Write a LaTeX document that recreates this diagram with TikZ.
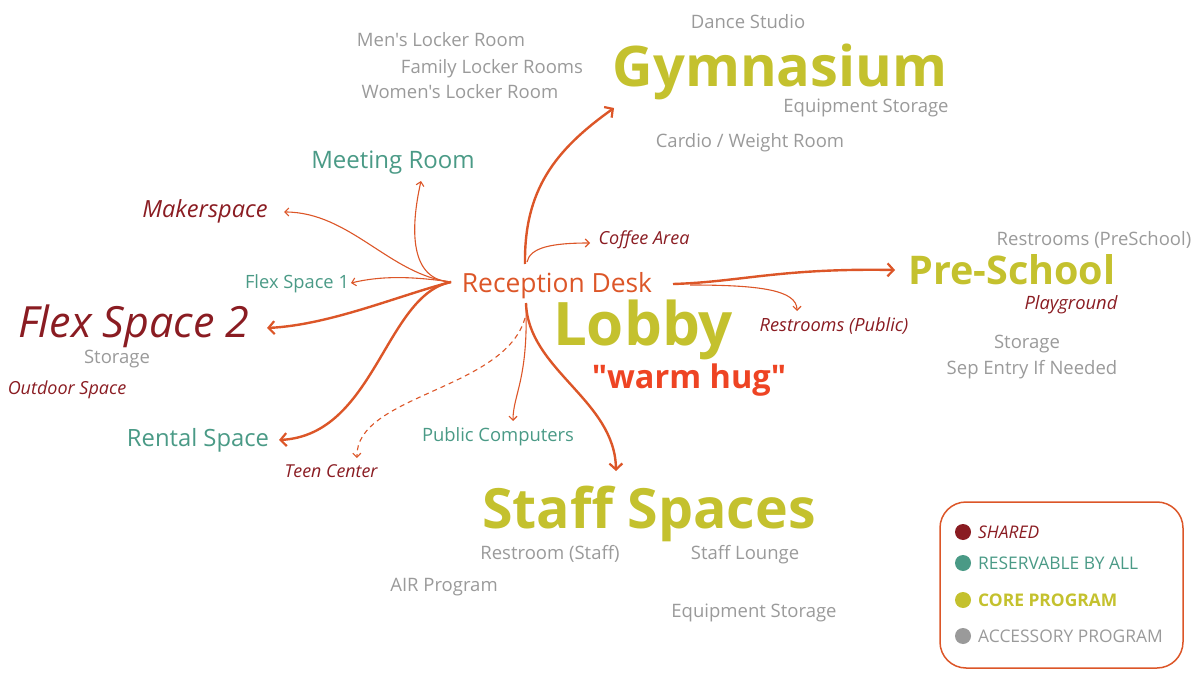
\documentclass[tikz,border=0pt]{standalone}
\usepackage{fontspec}
\setmainfont{Open Sans}[Ligatures=TeXOff]
\usetikzlibrary{arrows.meta}
\definecolor{lineor}{HTML}{DC5628}
\definecolor{dred}{HTML}{8A1C22}
\definecolor{teal2}{HTML}{4A9A86}
\definecolor{olive2}{HTML}{C4C12E}
\definecolor{grey2}{HTML}{9A9A9A}
\definecolor{hugred}{HTML}{EE4423}
\newcommand{\fs}[1]{\fontsize{#1}{#1}\selectfont}
\tikzset{
  lbl/.style={inner sep=0pt, anchor=base},
  acc/.style={lbl, text=grey2, font=\fs{18.5}},
  core/.style={lbl, text=olive2, font=\bfseries\fs{#1}},
  resv/.style={lbl, text=teal2, font=\fs{#1}},
  shrd/.style={lbl, text=dred, font=\itshape\fs{#1}},
  thickarr/.style={draw=lineor, line width=2.4pt, -{Straight Barb[length=6pt,width=13pt,line width=2.2pt]}},
  thinarr/.style={draw=lineor, line width=1.1pt, -{Straight Barb[length=4pt,width=8pt,line width=1.1pt]}},
  dot/.style={circle, inner sep=0pt, minimum size=16pt},
  legtxt/.style={inner sep=0pt, anchor=base west, font=\fs{17.4}}
}
\begin{document}
\begin{tikzpicture}[x=1pt,y=-1pt]
\useasboundingbox (0,0) rectangle (1200,679);
% top cluster
\node[acc] (dance) at (748,29) {Dance Studio};
\node[acc] (mens) at (441,47) {Men's Locker Room};
\node[acc] (family) at (492,74) {Family Locker Rooms};
\node[acc] (womens) at (460,99) {Women's Locker Room};
\node[core=56] (gym) at (780,87) {Gymnasium};
\node[acc] (eqtop) at (866,113) {Equipment Storage};
\node[acc] (cardio) at (750,148) {Cardio / Weight Room};
% left
\node[resv=24] (meeting) at (393,169) {Meeting Room};
\node[shrd=23.6] (maker) at (205,218) {Makerspace};
\node[resv=18.3] (flex1) at (297,289) {Flex Space 1};
\node[shrd=43] (flex2) at (134,337) {Flex Space 2};
\node[acc] (storl) at (117,363) {Storage};
\node[shrd=18] (outdoor) at (67,394) {Outdoor Space};
\node[resv=23.8] (rental) at (198,446) {Rental Space};
\node[shrd=17.8] (teen) at (331,477) {Teen Center};
\node[resv=18.4] (pubcomp) at (498,441) {Public Computers};
% center
\node[lbl, text=lineor, font=\fs{26.4}] (recep) at (557,292) {Reception Desk};
\coordinate (hub) at (451,282);
\node[shrd=18] (coffee) at (644,245) {Coffee Area};
\node[core=60] (lobby) at (643,345) {Lobby};
\node[lbl, text=hugred, font=\bfseries\fs{32.5}] (hug) at (689,388) {"warm hug"};
\node[shrd=18.2] (restpub) at (834,331) {Restrooms (Public)};
% right
\node[acc] (restpre) at (1094,246) {Restrooms (PreSchool)};
\node[core=39.5] (pre) at (1012,284) {Pre-School};
\node[shrd=18.4] (play) at (1071,309) {Playground};
\node[acc] (storr) at (1027,348) {Storage};
\node[acc] (sep) at (1032,374) {Sep Entry If Needed};
% bottom
\node[core=55.5] (staff) at (649,528) {Staff Spaces};
\node[acc] (reststaff) at (550,559) {Restroom (Staff)};
\node[acc] (lounge) at (745,559) {Staff Lounge};
\node[acc] (air) at (444,591) {AIR Program};
\node[acc] (eqbot) at (754,617) {Equipment Storage};
% connectors from reception desk
\coordinate (gymS) at (525,264);
\coordinate (gymT) at (614,108);
\coordinate (cofS) at (527,262);
\coordinate (cofT) at (590,243);
\coordinate (makT) at (284,212);
\coordinate (meetT) at (421,181);
\coordinate (f1T) at (351,283);
\coordinate (f2T) at (267,328);
\coordinate (renT) at (279,440);
\coordinate (preS) at (673,284);
\coordinate (preT) at (895,270);
\coordinate (rpS) at (690,285);
\coordinate (rpT) at (797,311);
\coordinate (stS) at (526,303);
\coordinate (stT) at (616,471);
\coordinate (pcS) at (526,307);
\coordinate (pcT) at (513,421);
\coordinate (tcS) at (525,318);
\coordinate (tcT) at (357,458);
\draw[thickarr] (gymS) .. controls (524,190) and (555,150) .. (gymT);
\draw[thinarr] (cofS) .. controls (530,248) and (550,243) .. (cofT);
\draw[thinarr] (hub) .. controls (390,275) and (350,212) .. (makT);
\draw[thinarr] (hub) .. controls (410,280) and (410,230) .. (meetT);
\draw[thinarr] (hub) .. controls (410,276) and (380,276) .. (f1T);
\draw[thickarr] (hub) .. controls (400,295) and (330,325) .. (f2T);
\draw[thickarr] (hub) .. controls (385,295) and (375,435) .. (renT);
\draw[thickarr] (preS) .. controls (740,282) and (780,268) .. (preT);
\draw[thinarr] (rpS) .. controls (760,285) and (797,290) .. (rpT);
\draw[thickarr] (stS) .. controls (528,370) and (615,400) .. (stT);
\draw[thinarr] (pcS) .. controls (528,380) and (513,395) .. (pcT);
\draw[thinarr, dash pattern=on 5pt off 4pt] (tcS) .. controls (505,390) and (355,395) .. (tcT);
% legend
\node[draw=lineor, line width=1.5pt, rounded corners=26pt, minimum width=243pt, minimum height=166pt, inner sep=0pt] (legend) at (1061.5,585) {};
\node[dot, fill=dred] (d1) at (963,532) {};
\node[dot, fill=teal2] (d2) at (963,563) {};
\node[dot, fill=olive2] (d3) at (963,600) {};
\node[dot, fill=grey2] (d4) at (963,636) {};
\node[legtxt, text=dred, font=\itshape\fs{17.4}] (t1) at (978,538) {SHARED};
\node[legtxt, text=teal2] (t2) at (978,569) {RESERVABLE BY ALL};
\node[legtxt, text=olive2, font=\bfseries\fs{17.4}] (t3) at (978,606) {CORE PROGRAM};
\node[legtxt, text=grey2] (t4) at (978,642) {ACCESSORY PROGRAM};
\end{tikzpicture}
\end{document}
